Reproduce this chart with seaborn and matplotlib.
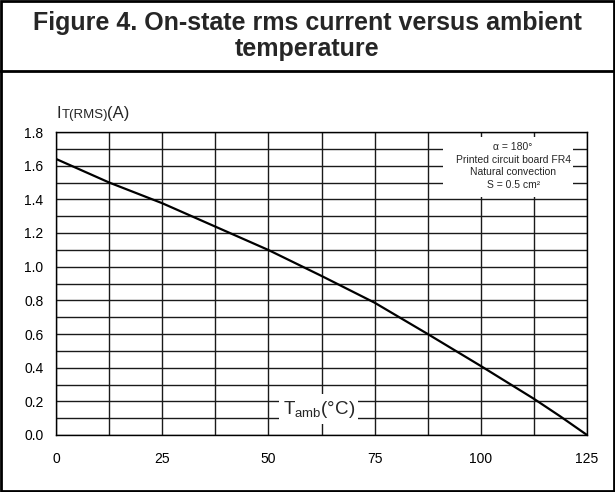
import matplotlib
matplotlib.use("Agg")
import matplotlib.pyplot as plt
import seaborn as sns
import pandas as pd
from matplotlib.patches import Rectangle
from matplotlib.ticker import MultipleLocator

# ---- data ----
temperature = [0, 12.5, 25, 37.5, 50, 62.5, 75, 87.5, 100, 112.5, 118.75, 125]
current = [1.64, 1.50, 1.377, 1.238, 1.099, 0.945, 0.786, 0.600, 0.41, 0.215, 0.11, 0.0]
x_ticks = [0, 25, 50, 75, 100, 125]
y_ticks = [0.0, 0.2, 0.4, 0.6, 0.8, 1.0, 1.2, 1.4, 1.6, 1.8]
title = "Figure 4. On-state rms current versus ambient\ntemperature"
note = "\u03b1 = 180°\nPrinted circuit board FR4\nNatural convection\nS = 0.5 cm²"

sns.set_theme(style="white")
plt.rcParams["font.family"] = ["Liberation Sans", "DejaVu Sans"]

W, H = 615, 492
fig = plt.figure(figsize=(W / 100, H / 100), dpi=100)
fx = lambda px: px / W
fy = lambda py: 1 - py / H

ax = fig.add_axes([fx(56), fy(435), fx(587) - fx(56), (435 - 132) / H])
df = pd.DataFrame({"T": temperature, "I": current})
sns.lineplot(data=df, x="T", y="I", ax=ax, color="black", linewidth=1.6, zorder=4)

ax.set_xlim(0, 125)
ax.set_ylim(0, 1.8)
ax.set_xticks(x_ticks)
ax.set_yticks(y_ticks)
ax.set_yticklabels([f"{v:.1f}" for v in y_ticks])
ax.xaxis.set_minor_locator(MultipleLocator(12.5))
ax.yaxis.set_minor_locator(MultipleLocator(0.1))
ax.set_axisbelow(True)
ax.grid(which="both", color="#1a1a1a", linewidth=1.0)
ax.tick_params(axis="both", which="both", length=0, labelsize=10, colors="black")
ax.tick_params(axis="x", pad=12)
ax.tick_params(axis="y", pad=9)
ax.set_xlabel("")
ax.set_ylabel("")
for s in ax.spines.values():
    s.set_color("black")
    s.set_linewidth(1.0)
    s.set_zorder(5)

# white note box covering grid
ax.add_patch(Rectangle((91.1, 1.414), 121.7 - 91.1, 1.771 - 1.414,
                       facecolor="white", edgecolor="none", zorder=2))
ax.text(107.6, 1.598, note, ha="center", va="center", fontsize=7.5,
        linespacing=1.3, zorder=6)

# x label inside plot
ax.add_patch(Rectangle((52.6, 0.065), 71.0 - 52.6, 0.243 - 0.065,
                       facecolor="white", edgecolor="none", zorder=2))
ax.text(62.0, 0.152, r"T$_{\mathregular{amb}}$(°C)", ha="center", va="center",
        fontsize=13.5, zorder=6)

# y label
fig.text(fx(57), fy(118), "I", fontsize=12, va="baseline", ha="left")
fig.text(fx(61.5), fy(118), "T(RMS)", fontsize=9.5, va="baseline", ha="left")
fig.text(fx(107.5), fy(118), "(A)", fontsize=12, va="baseline", ha="left")

# title
fig.text(0.5, fy(36), title, ha="center", va="center", fontsize=18,
         fontweight="bold", linespacing=1.12)

# frame lines
fig.add_artist(Rectangle((fx(1), fy(491)), fx(613), (490) / H, transform=fig.transFigure,
                         facecolor="none", edgecolor="black", linewidth=2.0))
fig.add_artist(plt.Line2D([0, 1], [fy(71), fy(71)], transform=fig.transFigure,
                          color="black", linewidth=2.0))

fig.savefig("out.png", dpi=100, facecolor="white")
